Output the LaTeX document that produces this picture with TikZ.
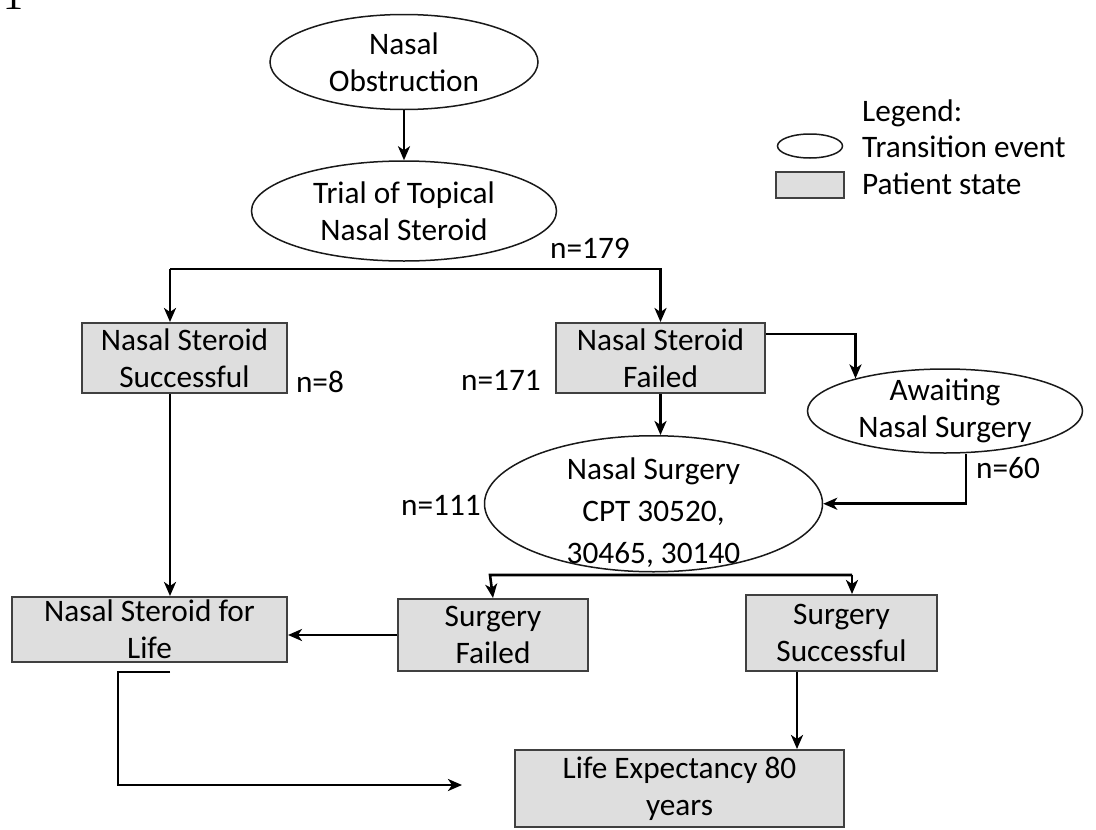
\documentclass[tikz,border=0pt]{standalone}
\usepackage{fontspec}
\setmainfont{Carlito}
\newfontfamily\serifnum{Liberation Serif}
\usepackage{tikz}
\usetikzlibrary {arrows.meta,
                 positioning,
                 shapes.geometric}
\newcommand\diagfont{\fontsize{31.3}{37}\selectfont}
\tikzset{
        base/.style={align=center, font=\diagfont, inner sep=0pt},
        pstate/.style={base, draw=black!75, rectangle, fill=black!13, line width=2pt},
        tevent/.style={base, draw=black!90, ellipse, inner sep=-40pt, line width=1.5pt},
        nlabel/.style={font=\diagfont, inner sep=0pt},
        myarrow/.style={-{Stealth[length=14pt, width=12pt, inset=4pt]}, line width=2.6pt},
 }

\begin{document}
\begin{tikzpicture}[x=1pt, y=-1pt]

    \useasboundingbox (0,0) rectangle (1096,830);
    \clip (0,0) rectangle (1096,830);

    \node[anchor=base, font=\serifnum\fontsize{40}{40}\selectfont, inner sep=0pt] (fignum) at (14,9) {1};

    % transition events and patient states
    \node[tevent, minimum width=268pt, minimum height=95pt] (obs) at (404,62) {Nasal\\Obstruction};
    \node[tevent, minimum width=305pt, minimum height=100pt, below=50pt of obs] (trial) {Trial of Topical\\Nasal Steroid};

    \node[pstate, minimum width=205pt, minimum height=70pt] (nss) at (184.5,358) {Nasal Steroid\\Successful};
    \node[pstate, minimum width=209pt, minimum height=70pt, right=267pt of nss] (nsf) {Nasal Steroid\\Failed};

    \node[tevent, minimum width=275pt, minimum height=84pt] (await) at (945,411) {Awaiting\\Nasal Surgery};
    \node[tevent, minimum width=338pt, minimum height=136pt, below=41pt of nsf, xshift=-7pt] (surg) {\rule{0pt}{40pt}Nasal Surgery\\[5pt]CPT 30520,\\[5pt]30465, 30140};

    \node[pstate, minimum width=275pt, minimum height=65pt, below=202pt of nss, xshift=-35pt] (nsfl) {Nasal Steroid for\\Life};
    \node[pstate, minimum width=190pt, minimum height=72pt, right=109pt of nsfl, yshift=-5.5pt] (sfail) {Surgery\\Failed};
    \node[pstate, minimum width=191pt, minimum height=76pt] (ssucc) at (841.5,633) {Surgery\\Successful};
    \node[pstate, minimum width=329pt, minimum height=77pt] (le) at (679.5,788.5) {Life Expectancy 80\\years};

    % counts
    \node[nlabel] (n179) at (590,248) {n=179};
    \node[nlabel] (n8) at (320,382) {n=8};
    \node[nlabel] (n171) at (501,380) {n=171};
    \node[nlabel] (n111) at (441,505) {n=111};
    \node[nlabel] (n60) at (1008,468) {n=60};

    % legend
    \node[nlabel, anchor=west] (lgtitle) at (862,113) {Legend:};
    \node[tevent, minimum width=65pt, minimum height=24pt] (lgev) at (810,146) {};
    \node[nlabel, anchor=west] (lgevtxt) at (862,147) {Transition event};
    \node[pstate, minimum width=68pt, minimum height=26pt] (lgst) at (810,185) {};
    \node[nlabel, anchor=west] (lgsttxt) at (862,184) {Patient state};

    % connectors
    \coordinate (s1) at (170,269);
    \coordinate (s2) at (490,575);
    \coordinate (s2r) at (852,575);
    \coordinate (lend) at (462,785);

    \draw[myarrow] (obs.south) -- (trial.north);
    \draw[myarrow] (s1) -- (s1 -| nsf.north) -- (nsf.north);
    \draw[myarrow] (s1) -- (s1 |- nss.north);
    \draw[myarrow] (nss.south -| s1) -- (s1 |- nsfl.north);
    \draw[myarrow] (nsf.south) -- (nsf.south |- surg.north);
    \draw[myarrow] ([yshift=-12pt]nsf.north east) -| (await.160);
    \draw[myarrow] ([xshift=21pt]await.south) |- (surg.east);
    \draw[myarrow] (s2r) -- (s2) -- (sfail.north);
    \draw[myarrow] (s2r) -- (s2r |- ssucc.north);
    \draw[myarrow] (sfail.west) -- (nsfl.east |- sfail.west);
    \draw[myarrow] ([xshift=-44.5pt]ssucc.south) -- ([xshift=-44.5pt]ssucc.south |- le.north);
    \draw[myarrow] ([yshift=-9pt]nsfl.south -| s1) -- ++(-52,0) |- (lend);

\end{tikzpicture}
\end{document}
